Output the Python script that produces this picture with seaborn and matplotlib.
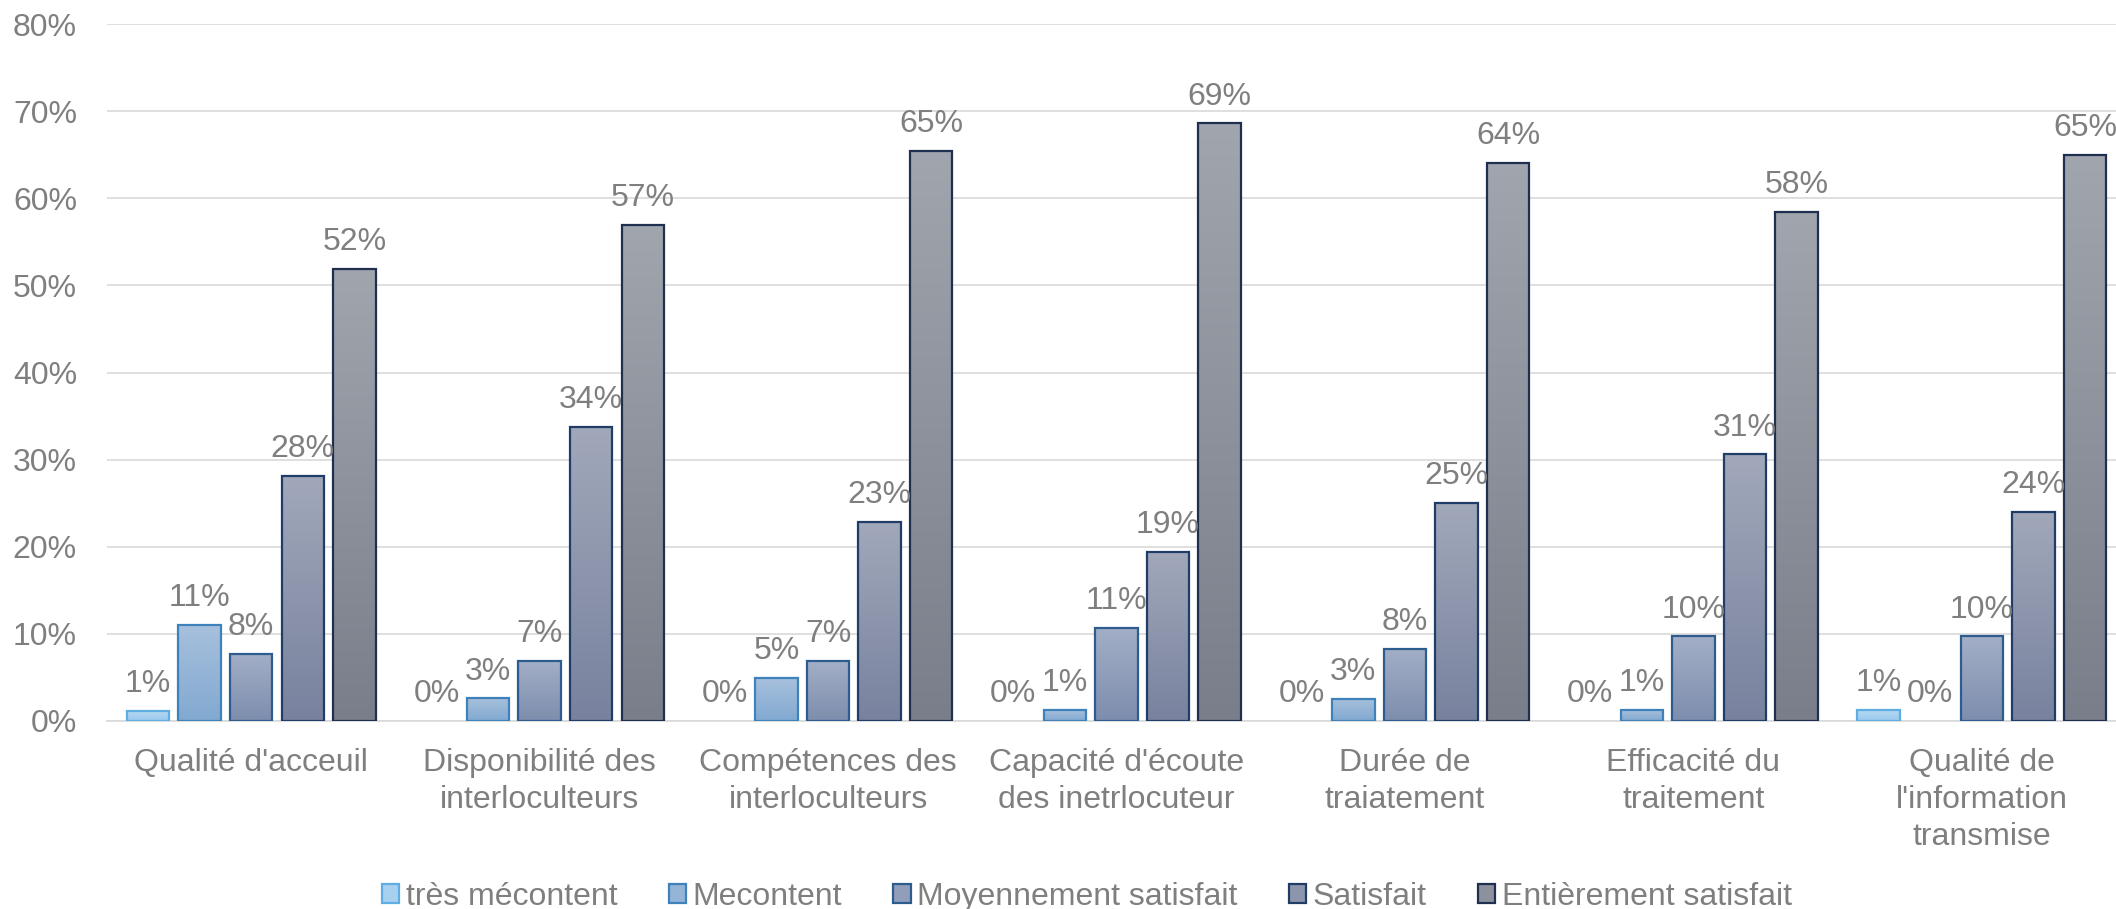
import numpy as np
import pandas as pd
import matplotlib
matplotlib.use("Agg")
import matplotlib.pyplot as plt
import matplotlib.colors as mcolors
from matplotlib.patches import Patch
import seaborn as sns

categories = ["Qualité d'acceuil", "Disponibilité des\ninterloculteurs",
              "Compétences des\ninterloculteurs", "Capacité d'écoute\ndes inetrlocuteur",
              "Durée de\ntraiatement", "Efficacité du\ntraitement",
              "Qualité de\nl'information\ntransmise"]
series = ["très mécontent", "Mecontent", "Moyennement satisfait", "Satisfait",
          "Entièrement satisfait"]
tres_mecontent = [1.13, 0.0, 0.0, 0.0, 0.0, 0.0, 1.26]
mecontent = [11.05, 2.6, 4.93, 1.26, 2.53, 1.26, 0.0]
moyennement = [7.72, 6.92, 6.86, 10.7, 8.3, 9.72, 9.72]
satisfait = [28.15, 33.74, 22.83, 19.4, 25.0, 30.6, 24.0]
entierement = [51.9, 56.9, 65.4, 68.6, 64.1, 58.4, 64.95]
yticks = [0, 10, 20, 30, 40, 50, 60, 70, 80]

values = [tres_mecontent, mecontent, moyennement, satisfait, entierement]
rows = []
for s, vals in zip(series, values):
    for c, v in zip(categories, vals):
        rows.append({"cat": c, "series": s, "val": v})
df = pd.DataFrame(rows)

top_cols = ["#b6d8f1", "#a7c0dc", "#a3afc7", "#a1a8ba", "#a1a5ad"]
bot_cols = ["#99c9ee", "#82a9d1", "#7d8dad", "#78829e", "#7a7e8a"]
edge_cols = ["#5eaee3", "#3f82bb", "#2c5d8e", "#1f3d67", "#1e2f4f"]
mid_cols = ["#a8d1f0", "#94b5d7", "#909eba", "#8d95ac", "#8d919c"]

sns.set_theme(style="white")
plt.rcParams["font.family"] = ["Liberation Sans", "DejaVu Sans"]
TXT = "#7f7f7f"
FS = 23

fig = plt.figure(figsize=(21.16, 9.09), dpi=100)
ax = fig.add_axes([107 / 2116, 188 / 909, 2019 / 2116, 697 / 909])

sns.barplot(data=df, x="cat", y="val", hue="series", hue_order=series,
            order=categories, palette=mid_cols, width=0.894, gap=0.18,
            legend=False, ax=ax, zorder=3)

ax.set_ylim(0, 80)
ax.set_xlim(-0.5, 6.5)

for i, cont in enumerate(ax.containers):
    cmap = mcolors.LinearSegmentedColormap.from_list(
        f"g{i}", [top_cols[i], bot_cols[i]])
    grad = cmap(np.linspace(0, 1, 256)).reshape(256, 1, 4)
    for p in cont.patches:
        p.set_edgecolor(edge_cols[i])
        p.set_facecolor("none")
        p.set_zorder(4)
        h = p.get_height()
        if h > 0:
            p.set_linewidth(1.6)
            x0 = p.get_x()
            im = ax.imshow(grad, extent=[x0, x0 + p.get_width(), 0, h],
                           origin="upper", aspect="auto", zorder=3,
                           interpolation="bilinear")
            im.set_clip_path(p)
        else:
            p.set_linewidth(0)
    ax.bar_label(cont, labels=[f"{round(v):.0f}%" for v in cont.datavalues],
                 padding=8.5, fontsize=FS, color=TXT, zorder=5)

ax.set_xlim(-0.5, 6.5)
ax.set_ylim(0, 80)
ax.set_yticks(yticks)
ax.set_yticklabels([f"{t}%" for t in yticks])
ax.yaxis.grid(True, color="#d9d9d9", linewidth=1.2, zorder=0)
ax.set_axisbelow(True)
for s in ["top", "right", "left"]:
    ax.spines[s].set_visible(False)
ax.spines["bottom"].set_color("#d9d9d9")
ax.spines["bottom"].set_linewidth(1.2)
ax.tick_params(axis="y", length=0, pad=21.6, labelsize=FS, labelcolor=TXT)
ax.tick_params(axis="x", length=0, pad=19.5, labelsize=FS, labelcolor=TXT)
for lab in ax.get_xticklabels():
    lab.set_linespacing(1.3)
ax.set_xlabel("")
ax.set_ylabel("")

handles = [Patch(facecolor=mid_cols[i], edgecolor=edge_cols[i], linewidth=1.6,
                 label=series[i]) for i in range(5)]
fig.legend(handles=handles, loc="center", bbox_to_anchor=(0.5136, 0.0135),
           ncol=5, frameon=False, fontsize=FS, handlelength=0.55,
           handleheight=0.56, handletextpad=0.2, columnspacing=1.6,
           borderpad=0, labelcolor=TXT)

fig.savefig("out.png", dpi=100)
